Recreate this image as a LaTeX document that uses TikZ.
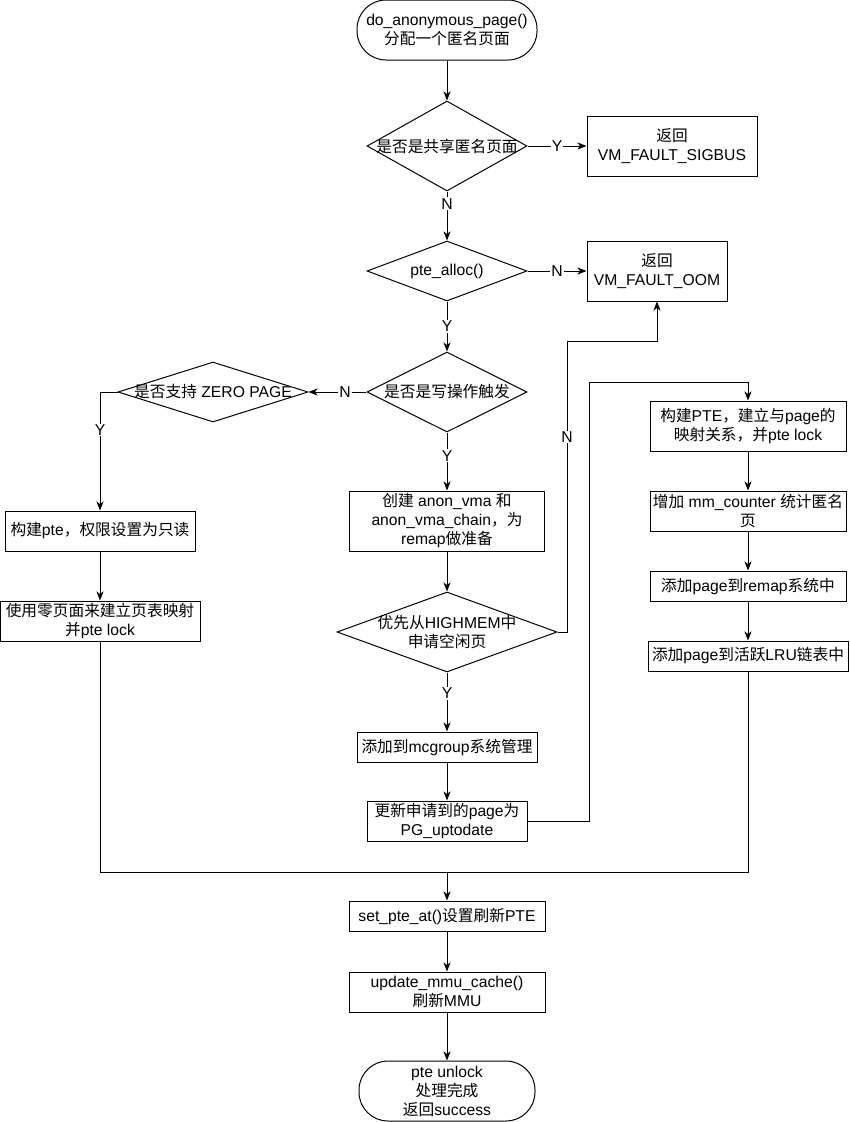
\documentclass[tikz,border=0pt]{standalone}
\usepackage{fontspec}
\setmainfont{Liberation Sans}
\newfontfamily\cjkfont{Noto Sans CJK SC}
\XeTeXinterchartokenstate=1
\newXeTeXintercharclass\cjkclass
\newcount\cjkcode
\cjkcode="4E00
\loop
\XeTeXcharclass\cjkcode=\cjkclass
\advance\cjkcode by 1
\ifnum\cjkcode<"A000 \repeat
\XeTeXcharclass"FF0C=\cjkclass
\XeTeXinterchartoks 0 \cjkclass = {\begingroup\cjkfont}
\XeTeXinterchartoks 4095 \cjkclass = {\begingroup\cjkfont}
\XeTeXinterchartoks \cjkclass 0 = {\endgroup}
\XeTeXinterchartoks \cjkclass 4095 = {\endgroup}
\usepackage{tikz}
\usetikzlibrary{shapes.geometric}
\usetikzlibrary{arrows.meta}
\tikzstyle{procbox} = [draw=black, line width=1pt, rectangle, inner sep=0pt, align=center]
\tikzstyle{termbox} = [draw=black, line width=1pt, rectangle, rounded corners=29pt,
inner sep=0pt, align=center]
\tikzstyle{decision} = [draw=black, line width=1pt, diamond, inner sep=0pt]
\tikzstyle{flow} = [draw=black, line width=1pt, -{Stealth[length=9pt,width=7pt,inset=2.5pt]}]
\tikzstyle{plainline} = [draw=black, line width=1pt]
\tikzstyle{choice} = [fill=white, inner sep=1pt]

\begin{document}
\begin{tikzpicture}[x=1pt, y=-1pt, font=\fontsize{15.7}{19}\selectfont]
        \useasboundingbox (0,0) rectangle (849,1122);
        \node[termbox, minimum width=180, minimum height=60] (start) at (447,30) {do\_anonymous\_page()\\分配一个匿名页面};
        \node[decision, minimum width=160, minimum height=90, label={center:{是否是共享匿名页面}}] (shared) at (447,146) {};
        \node[procbox, minimum width=170, minimum height=60] (sigbus) at (672,146) {返回\\VM\_FAULT\_SIGBUS};
        \node[decision, minimum width=160, minimum height=60, label={center:{pte\_alloc()}}] (ptealloc) at (447,271) {};
        \node[procbox, minimum width=140, minimum height=60] (oom) at (657,271) {返回\\VM\_FAULT\_OOM};
        \node[decision, minimum width=160, minimum height=80, label={center:{是否是写操作触发}}] (iswrite) at (447,392) {};
        \node[decision, minimum width=190, minimum height=60, label={center:{是否支持 ZERO PAGE}}] (zerochk) at (213,392) {};
        \node[procbox, minimum width=190, minimum height=40] (rdonly) at (100,531) {构建pte，权限设置为只读};
        \node[procbox, minimum width=200, minimum height=40] (zeromap) at (100,621) {使用零页面来建立页表映射\\并pte lock};
        \node[procbox, minimum width=195, minimum height=60] (anonvma) at (447,521) {创建 anon\_vma 和\\anon\_vma\_chain，为\\remap做准备};
        \node[decision, minimum width=220, minimum height=80, label={[align=center]center:{优先从HIGHMEM中\\申请空闲页}}] (highmem) at (447,632) {};
        \node[procbox, minimum width=180, minimum height=30] (mcgroup) at (447,747) {添加到mcgroup系统管理};
        \node[procbox, minimum width=160, minimum height=40] (uptodate) at (447,821) {更新申请到的page为\\PG\_uptodate};
        \node[procbox, minimum width=196, minimum height=50] (mkpte) at (748,426) {构建PTE，建立与page的\\映射关系，并pte lock};
        \node[procbox, minimum width=196, minimum height=40] (counter) at (748,511) {增加 mm\_counter 统计匿名\\页};
        \node[procbox, minimum width=196, minimum height=30] (rmap) at (748,586) {添加page到remap系统中};
        \node[procbox, minimum width=200, minimum height=30] (lru) at (748,656) {添加page到活跃LRU链表中};
        \node[procbox, minimum width=196, minimum height=30] (setpte) at (447,916) {set\_pte\_at()设置刷新PTE};
        \node[procbox, minimum width=196, minimum height=40] (mmu) at (447,992) {update\_mmu\_cache()\\刷新MMU};
        \node[termbox, minimum width=176, minimum height=60] (finish) at (447,1091) {pte unlock\\处理完成\\返回success};
        \coordinate (oombend) at (567,341);
        \coordinate (ptebend) at (589,382);
        \coordinate (merge) at (447,872);
        \draw[flow] (start) -- (shared);
        \draw[flow] (shared) -- node[choice]{Y} (sigbus);
        \draw[flow] (shared) -- node[choice, pos=0.25]{N} (ptealloc);
        \draw[flow] (ptealloc) -- node[choice]{N} (oom);
        \draw[flow] (ptealloc) -- node[choice]{Y} (iswrite);
        \draw[flow] (iswrite) -- node[choice, pos=0.37]{N} (zerochk);
        \draw[flow] (zerochk.west) -| node[choice, pos=0.66]{Y} (rdonly.north);
        \draw[flow] (rdonly) -- (zeromap);
        \draw[flow] (iswrite) -- node[choice, pos=0.4]{Y} (anonvma);
        \draw[flow] (anonvma) -- (highmem);
        \draw[flow] (highmem) -- node[choice, pos=0.35]{Y} (mcgroup);
        \draw[flow] (mcgroup) -- (uptodate);
        \draw[flow] (highmem.east) -| node[choice, pos=0.835]{N} (oombend) -| (oom.south);
        \draw[flow] (uptodate.east) -| (ptebend) -| (mkpte.north);
        \draw[flow] (mkpte) -- (counter);
        \draw[flow] (counter) -- (rmap);
        \draw[flow] (rmap) -- (lru);
        \draw[plainline] (zeromap.south) |- (merge);
        \draw[plainline] (lru.south) |- (merge);
        \draw[flow] (merge) -- (setpte.north);
        \draw[flow] (setpte) -- (mmu);
        \draw[flow] (mmu) -- (finish);
    \end{tikzpicture}
\end{document}
